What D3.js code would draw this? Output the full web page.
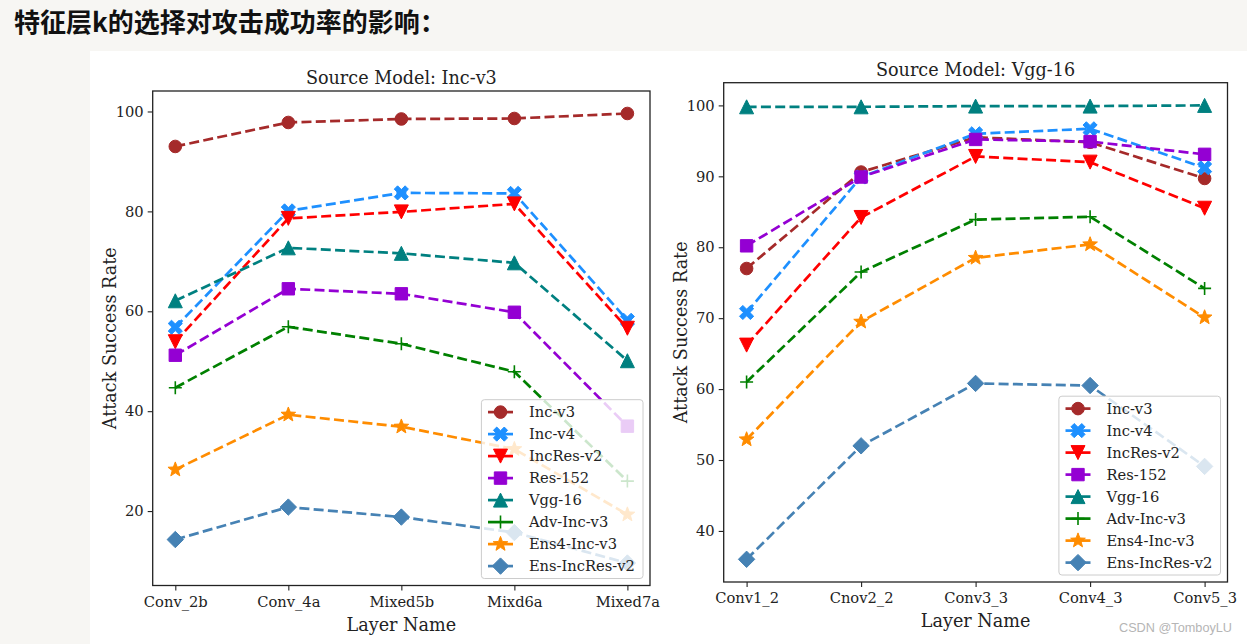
<!DOCTYPE html>
<html><head><meta charset="utf-8">
<script src="https://cdn.jsdelivr.net/npm/d3@7"></script>
<style>
html,body{margin:0;padding:0;background:#f7f6f3;}
svg{display:block;}
</style></head><body>
<svg id="c" width="1247" height="644"></svg>
<script>
// ---------- data ----------
const seriesNames   = ["Inc-v3","Inc-v4","IncRes-v2","Res-152","Vgg-16","Adv-Inc-v3","Ens4-Inc-v3","Ens-IncRes-v2"];
const seriesColors  = ["#a52a2a","#1e90ff","#ff0000","#9400d3","#008080","#008000","#ff8c00","#4682b4"];
const seriesMarkers = ["o","X","v","s","^","+","*","D"];

const incLayers = ["Conv_2b","Conv_4a","Mixed5b","Mixd6a","Mixed7a"];
const vggLayers = ["Conv1_2","Cnov2_2","Conv3_3","Conv4_3","Conv5_3"];
const incYTicks = [20,40,60,80,100];
const vggYTicks = [40,50,60,70,80,90,100];

// Source model: Inc-v3
const incSrcIncV3       = [93.0, 97.8, 98.5, 98.6, 99.6];
const incSrcIncV4       = [56.8, 80.1, 83.7, 83.6, 58.2];
const incSrcIncResV2    = [53.9, 78.6, 79.9, 81.5, 56.6];
const incSrcRes152      = [51.2, 64.5, 63.5, 59.8, 37.0];
const incSrcVgg16       = [62.1, 72.7, 71.6, 69.7, 50.1];
const incSrcAdvIncV3    = [44.7, 56.9, 53.5, 47.9, 26.0];
const incSrcEns4IncV3   = [28.3, 39.3, 36.9, 32.4, 19.3];
const incSrcEnsIncResV2 = [14.3, 20.8, 18.8, 15.7, 9.6];

// Source model: Vgg-16
const vggSrcIncV3       = [77.0, 90.6, 95.5, 94.8, 89.7];
const vggSrcIncV4       = [70.8, 89.9, 96.0, 96.7, 91.2];
const vggSrcIncResV2    = [66.2, 84.2, 92.8, 92.0, 85.5];
const vggSrcRes152      = [80.2, 89.9, 95.2, 94.9, 93.1];
const vggSrcVgg16       = [99.8, 99.8, 99.9, 99.9, 100.0];
const vggSrcAdvIncV3    = [61.0, 76.5, 83.9, 84.3, 74.2];
const vggSrcEns4IncV3   = [52.9, 69.5, 78.5, 80.4, 70.1];
const vggSrcEnsIncResV2 = [36.0, 52.0, 60.8, 60.5, 49.1];

// ---------- layout ----------
const panels = [
  {title:"Source Model: Inc-v3", cats:incLayers, yTicks:incYTicks,
   values:[incSrcIncV3,incSrcIncV4,incSrcIncResV2,incSrcRes152,incSrcVgg16,incSrcAdvIncV3,incSrcEns4IncV3,incSrcEnsIncResV2],
   box:{x0:152.7,x1:650,y0:91,y1:585.5}},
  {title:"Source Model: Vgg-16", cats:vggLayers, yTicks:vggYTicks,
   values:[vggSrcIncV3,vggSrcIncV4,vggSrcIncResV2,vggSrcRes152,vggSrcVgg16,vggSrcAdvIncV3,vggSrcEns4IncV3,vggSrcEnsIncResV2],
   box:{x0:723.7,x1:1227.5,y0:82.7,y1:582}}
];

const FONT = "'DejaVu Serif', serif";
const TICKFS = 14.7, LABELFS = 17.6;

// marker shapes (size = radius in px)
function poly(ctx, pts){ ctx.moveTo(pts[0][0],pts[0][1]); for(let i=1;i<pts.length;i++) ctx.lineTo(pts[i][0],pts[i][1]); ctx.closePath(); }
const symbols = {
  "o": {draw(ctx,r){ ctx.moveTo(r,0); ctx.arc(0,0,r,0,2*Math.PI); }},
  "s": {draw(ctx,r){ poly(ctx,[[-r,-r],[r,-r],[r,r],[-r,r]]); }},
  "v": {draw(ctx,r){ poly(ctx,[[0,r],[-r,-r],[r,-r]]); }},
  "^": {draw(ctx,r){ poly(ctx,[[0,-r],[-r,r],[r,r]]); }},
  "D": {draw(ctx,r){ poly(ctx,[[0,-r],[r,0],[0,r],[-r,0]]); }},
  "+": {draw(ctx,r){ ctx.moveTo(-r,0); ctx.lineTo(r,0); ctx.moveTo(0,-r); ctx.lineTo(0,r); }},
  "X": {draw(ctx,r){
      const a=r*0.32, L=r*1.05;
      const p=[[a,-L],[a,-a],[L,-a],[L,a],[a,a],[a,L],[-a,L],[-a,a],[-L,a],[-L,-a],[-a,-a],[-a,-L]];
      const c=Math.SQRT1_2;
      poly(ctx,p.map(([x,y])=>[(x-y)*c,(x+y)*c]));
  }},
  "*": {draw(ctx,r){
      const pts=[]; const ri=r*0.42;
      for(let i=0;i<10;i++){ const ang=-Math.PI/2+i*Math.PI/5; const rr=i%2?ri:r; pts.push([rr*Math.cos(ang),rr*Math.sin(ang)]); }
      poly(ctx,pts);
  }}
};
const markerSize = {"o":6.3,"s":6.2,"v":7,"^":7,"D":8.2,"+":6.5,"X":7.3,"*":7.7};

const svg = d3.select("#c");
// background areas
svg.append("rect").attr("x",0).attr("y",0).attr("width",1247).attr("height",644).attr("fill","#f7f6f3");
svg.append("rect").attr("x",90).attr("y",51).attr("width",1157).attr("height",593).attr("fill","#ffffff");
svg.append("text").attr("x",14).attr("y",32)
   .attr("font-family","'Noto Sans CJK SC', sans-serif").attr("font-weight","bold")
   .attr("font-size",26).attr("fill","#111").text("特征层k的选择对攻击成功率的影响：");

function drawMarker(g, m, color, x, y){
  const p = g.append("path")
    .attr("d", d3.symbol().type(symbols[m]).size(markerSize[m])())
    .attr("transform",`translate(${x},${y})`);
  if(m==="+") p.attr("fill","none").attr("stroke",color).attr("stroke-width",1.6);
  else p.attr("fill",color).attr("stroke",color).attr("stroke-width",1);
}

panels.forEach(P=>{
  const b=P.box;
  const all = P.values.flat();
  const lo=d3.min(all), hi=d3.max(all), m=(hi-lo)*0.05;
  const x = d3.scalePoint().domain(P.cats).range([b.x0,b.x1]).padding(0.2);
  const y = d3.scaleLinear().domain([lo-m,hi+m]).range([b.y1,b.y0]);
  const g = svg.append("g");

  // series
  P.values.forEach((vals,i)=>{
    const col=seriesColors[i];
    const line=d3.line().x((d,j)=>x(P.cats[j])).y(d=>y(d));
    g.append("path").datum(vals).attr("d",line).attr("fill","none")
      .attr("stroke",col).attr("stroke-width",2.7).attr("stroke-dasharray","10,4.3");
    vals.forEach((v,j)=>drawMarker(g,seriesMarkers[i],col,x(P.cats[j]),y(v)));
  });

  // axes
  const ax = g.append("g").attr("transform",`translate(0,${b.y1})`)
    .call(d3.axisBottom(x).tickSize(5).tickPadding(6));
  const ay = g.append("g").attr("transform",`translate(${b.x0},0)`)
    .call(d3.axisLeft(y).tickValues(P.yTicks).tickSize(5).tickPadding(4).tickFormat(d3.format("d")));
  [ax,ay].forEach(a=>{
    a.select(".domain").remove();
    a.selectAll("line").attr("stroke","#222").attr("stroke-width",1.1);
    a.selectAll("text").attr("font-family",FONT).attr("font-size",TICKFS).attr("fill","#222");
  });
  g.append("rect").attr("x",b.x0).attr("y",b.y0).attr("width",b.x1-b.x0).attr("height",b.y1-b.y0)
    .attr("fill","none").attr("stroke","#222").attr("stroke-width",1.3);

  // titles & labels
  const cx=(b.x0+b.x1)/2, cy=(b.y0+b.y1)/2;
  g.append("text").attr("x",cx).attr("y",b.y0-7).attr("text-anchor","middle")
    .attr("font-family",FONT).attr("font-size",LABELFS).attr("fill","#222").text(P.title);
  g.append("text").attr("x",cx).attr("y",b.y1+45).attr("text-anchor","middle")
    .attr("font-family",FONT).attr("font-size",LABELFS).attr("fill","#222").text("Layer Name");
  g.append("text").attr("transform",`translate(${b.x0-37},${cy}) rotate(-90)`).attr("text-anchor","middle")
    .attr("font-family",FONT).attr("font-size",LABELFS).attr("fill","#222").text("Attack Success Rate");

  // legend
  const lw=161.6, rowH=22, lh=12.4*2+rowH*7;
  const lx=b.x1-7-lw, ly=b.y1-7-lh;
  const lg=g.append("g");
  lg.append("rect").attr("x",lx).attr("y",ly).attr("width",lw).attr("height",lh).attr("rx",3)
    .attr("fill","#fff").attr("fill-opacity",0.8).attr("stroke","#cccccc").attr("stroke-width",1);
  seriesNames.forEach((n,i)=>{
    const yy=ly+12.4+i*rowH, col=seriesColors[i];
    lg.append("line").attr("x1",lx+6.6).attr("x2",lx+31.6).attr("y1",yy).attr("y2",yy)
      .attr("stroke",col).attr("stroke-width",2.7);
    drawMarker(lg,seriesMarkers[i],col,lx+19.1,yy);
    lg.append("text").attr("x",lx+47.5).attr("y",yy+5).attr("font-family",FONT)
      .attr("font-size",TICKFS).attr("fill","#222").text(n);
  });
});

svg.append("text").attr("x",1232).attr("y",632).attr("text-anchor","end")
  .attr("font-family","'Liberation Sans', Arial, sans-serif").attr("font-size",12.7)
  .attr("fill","#b5b5b5").text("CSDN @TomboyLU");
</script>
</body></html>
